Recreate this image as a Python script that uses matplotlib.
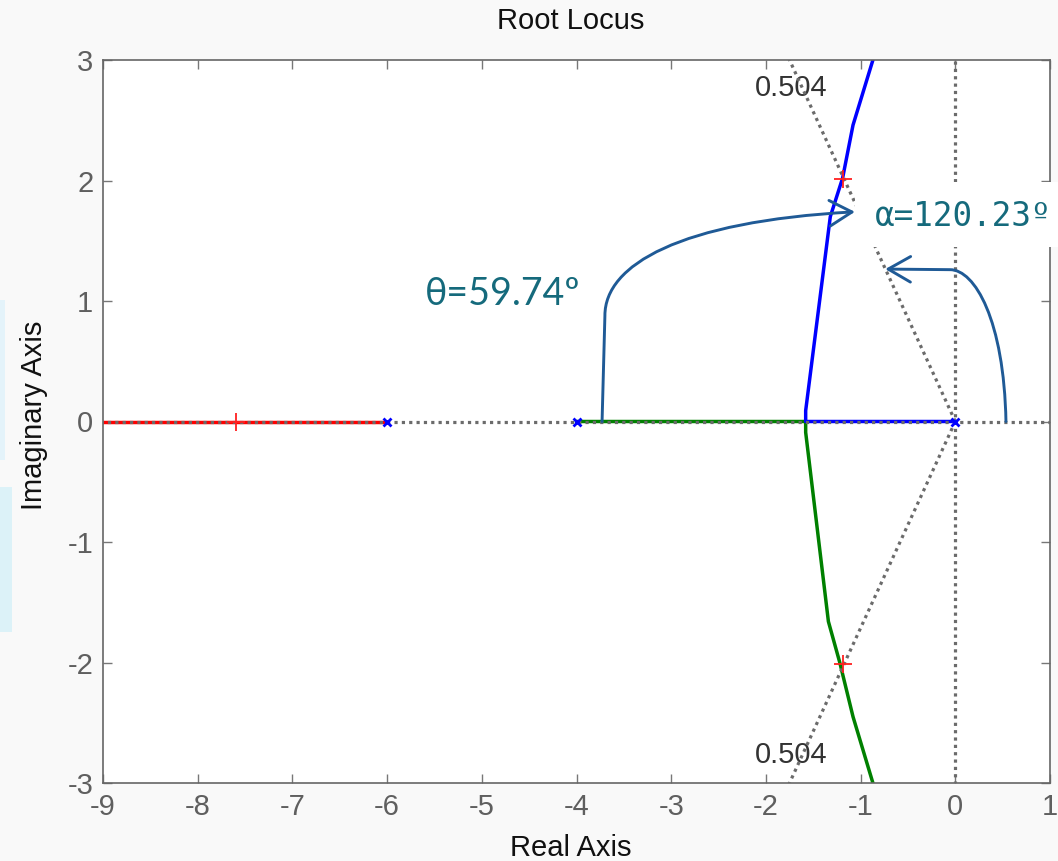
import numpy as np
import matplotlib.pyplot as plt
from matplotlib.path import Path
from matplotlib.patches import FancyArrowPatch, Rectangle

plt.rcParams['axes.unicode_minus'] = False

# poles of the open loop system
pole_re = [0.0, -4.0, -6.0]
pole_im = [0.0, 0.0, 0.0]

# branches
blue_re = [0.0, -1.58, -1.58, -1.32, -1.19, -1.08, -0.87]
blue_im = [0.0, 0.0, 0.09, 1.70, 2.02, 2.46, 3.0]
green_re = [-4.0, -1.58, -1.58, -1.34, -1.22, -1.08, -0.87]
green_im = [0.0, 0.0, -0.09, -1.66, -2.0, -2.45, -3.0]
red_re = [-6.0, -7.6, -9.5]
red_im = [0.0, 0.0, 0.0]

# closed loop poles (rlocfind)
cl_re = [-1.19, -1.19, -7.6]
cl_im = [2.01, -2.01, 0.0]

zeta = 0.504
theta_txt = 'θ=59.74º'
alpha_txt = 'α=120.23º'

W, H = 1058, 861
fig = plt.figure(figsize=(W / 100, H / 100), dpi=100, facecolor='#f9f9f9')
ax = fig.add_axes([103 / W, 1 - 783 / H, 947 / W, 723 / H])
ax.set_facecolor('white')

# locus
ax.plot(red_re, red_im, color='#ff0000', lw=2.5, zorder=2)
ax.plot(green_re, green_im, color='#008000', lw=2.5, zorder=2)
ax.plot(blue_re, blue_im, color='#0000ff', lw=2.5, zorder=2)

# sgrid lines
dots = (0, (1, 1.3))
gcol = '#6b6b6b'
glw = 2.3
ax.plot([-9.5, 1.5], [0, 0], color=gcol, lw=glw, ls=dots, zorder=3)
ax.plot([0, 0], [-3.5, 3.5], color=gcol, lw=glw, ls=dots, zorder=3)
ang = np.arccos(zeta)
r = 3.6
ax.plot([0, -r * np.cos(ang)], [0, r * np.sin(ang)], color=gcol, lw=glw, ls=dots, zorder=3)
ax.plot([0, -r * np.cos(ang)], [0, -r * np.sin(ang)], color=gcol, lw=glw, ls=dots, zorder=3)

ax.plot(pole_re, pole_im, ls='none', marker='x', ms=6, mew=2, color='#0000ff', zorder=4)
ax.plot(cl_re, cl_im, ls='none', marker='+', ms=13, mew=1.3, color='#ff2020', zorder=4)

ax.text(-1.735, 2.77, f'{zeta:.3f}', fontsize=21, color='#333333', ha='center', va='center',
        family='Liberation Sans', zorder=1)
ax.text(-1.735, -2.77, f'{zeta:.3f}', fontsize=21, color='#333333', ha='center', va='center',
        family='Liberation Sans', zorder=1)

ax.set_xlim(-9, 1)
ax.set_ylim(-3, 3)
ax.set_xticks(range(-9, 2))
ax.set_yticks(range(-3, 4))
ax.tick_params(direction='in', top=True, right=True, length=6.5, width=1, color='#777777',
               labelsize=21, labelcolor='#5f5f5f', pad=7)
for t in ax.get_xticklabels() + ax.get_yticklabels():
    t.set_family('Liberation Sans')
for s in ax.spines.values():
    s.set_color('#666666')
    s.set_linewidth(1.2)

# annotation arrows
acol = '#1f5a96'
head = '->,head_length=0.7,head_width=0.4'
p_theta = Path([(-3.73, 0.0), (-3.70, 0.88), (-3.70, 1.30), (-2.91, 1.66), (-1.06, 1.74)],
               [Path.MOVETO, Path.LINETO, Path.CURVE4, Path.CURVE4, Path.CURVE4])
ax.add_patch(FancyArrowPatch(path=p_theta, arrowstyle=head,
                             mutation_scale=23, color=acol, lw=2.1, zorder=5))
p_alpha = Path([(0.535, 0.0), (0.514, 0.84), (0.208, 1.26), (-0.056, 1.26), (-0.74, 1.265)],
               [Path.MOVETO, Path.CURVE4, Path.CURVE4, Path.CURVE4, Path.LINETO])
ax.add_patch(FancyArrowPatch(path=p_alpha, arrowstyle=head,
                             mutation_scale=23, color=acol, lw=2.1, zorder=5))

tcol = '#156a7c'
ax.text(-5.6, 1.06, theta_txt, fontsize=27, color=tcol, ha='left', va='center',
        family=['Lato', 'DejaVu Sans'], zorder=6)

# white box behind the alpha label, it sits over the axes edge
fig.add_artist(Rectangle((855 / W, 1 - 247 / H), 210 / W, 65 / H, transform=fig.transFigure,
                         facecolor='white', edgecolor='none', zorder=5))
fig.text(875 / W, 1 - 216 / H, alpha_txt, fontsize=23.5, color=tcol, ha='left', va='center',
         family='DejaVu Sans Mono', zorder=6)

# labels
fig.text(571 / W, 1 - 21 / H, 'Root Locus', fontsize=21, color='#111111', ha='center', va='center',
         family='Liberation Sans')
fig.text(571 / W, 1 - 848 / H, 'Real Axis', fontsize=21, color='#111111', ha='center', va='center',
         family='Liberation Sans')
fig.text(34 / W, 1 - 415 / H, 'Imaginary Axis', fontsize=21, color='#111111', ha='center', va='center',
         rotation=90, family='Liberation Sans')

# bits of slide showing at the left edge
fig.add_artist(Rectangle((0, 1 - 460 / H), 5 / W, 160 / H, transform=fig.transFigure,
                         facecolor='#e4f3fa', edgecolor='none'))
fig.add_artist(Rectangle((0, 1 - 632 / H), 12 / W, 145 / H, transform=fig.transFigure,
                         facecolor='#dcf2f8', edgecolor='none'))

fig.savefig('out.png', dpi=100, facecolor=fig.get_facecolor())
